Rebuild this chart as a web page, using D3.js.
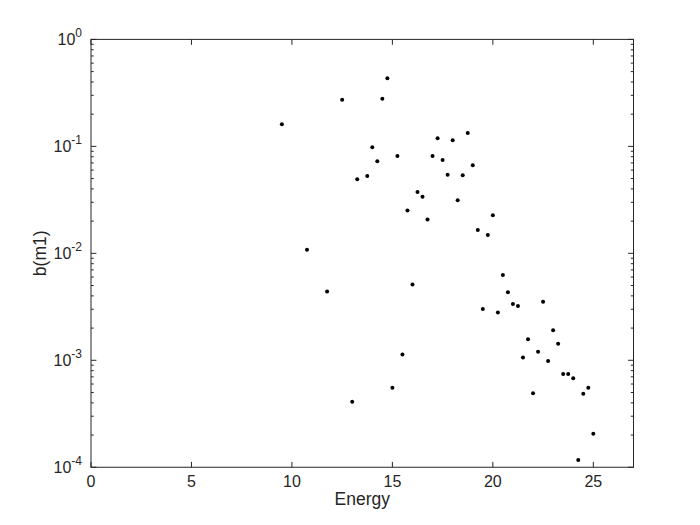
<!DOCTYPE html>
<html><head><meta charset="utf-8">
<script src="https://cdn.jsdelivr.net/npm/d3@7"></script>
<style>body{margin:0;background:#fff}svg{display:block}</style>
</head><body>
<script>
const energy = [9.5,12.5,14.5,14.75,17.25,18,18.75,14,14.25,15.25,17,17.5,17.75,19,13.25,13.75,16.25,16.5,18.25,18.5,15.75,16.75,20,19.25,19.75,10.75,11.75,16,15.5,15,13,20.5,20.75,19.5,20.25,21,21.25,22.5,23,21.75,23.25,22.25,21.5,22.75,23.5,23.75,24,24.75,24.5,22,25,24.25];
const bm1 = [0.161,0.273,0.279,0.433,0.119,0.114,0.133,0.098,0.0725,0.0813,0.0813,0.0745,0.0543,0.0665,0.0492,0.0528,0.0374,0.0338,0.0313,0.0536,0.0251,0.0207,0.0227,0.0165,0.0148,0.0108,0.0044,0.0051,0.00113,0.000554,0.00041,0.00627,0.00432,0.00302,0.00279,0.00336,0.00322,0.00353,0.00191,0.00157,0.00143,0.0012,0.00106,0.000985,0.000744,0.000744,0.000679,0.000554,0.000487,0.000491,0.000206,0.000117];
const xTicks = [0,5,10,15,20,25];
const yTickExps = [0,-1,-2,-3,-4];
const xLabel = "Energy";
const yLabel = "b(m1)";

const W=700,H=525;
const L=91,R=633.5,T=39.4,B=467.25;
const ink="#262626";
const font="'Liberation Sans', Arial, Helvetica, sans-serif";
const svg=d3.select("body").append("svg").attr("width",W).attr("height",H);
const x=d3.scaleLinear().domain([0,27]).range([L,R]);
const y=d3.scaleLog().domain([1e-4,1]).range([B,T]);

// points
svg.append("g").selectAll("circle").data(energy.map((e,i)=>[e,bm1[i]])).join("circle")
  .attr("cx",d=>x(d[0])).attr("cy",d=>y(d[1])).attr("r",2).attr("fill","#000");

const g=svg.append("g").attr("stroke",ink).attr("fill","none").attr("stroke-width",1);
// box
g.append("rect").attr("x",L).attr("y",T).attr("width",R-L).attr("height",B-T);
// x ticks
xTicks.forEach(v=>{
  const px=x(v);
  g.append("line").attr("x1",px).attr("x2",px).attr("y1",B).attr("y2",B-5.4);
  g.append("line").attr("x1",px).attr("x2",px).attr("y1",T).attr("y2",T+5.4);
});
// y ticks (major + minor)
yTickExps.forEach(e=>{
  const py=y(Math.pow(10,e));
  g.append("line").attr("x1",L).attr("x2",L+5.4).attr("y1",py).attr("y2",py);
  g.append("line").attr("x1",R).attr("x2",R-5.4).attr("y1",py).attr("y2",py);
  if(e>-4){
    for(let k=2;k<=9;k++){
      const pm=y(k*Math.pow(10,e-1));
      g.append("line").attr("x1",L).attr("x2",L+2.7).attr("y1",pm).attr("y2",pm);
      g.append("line").attr("x1",R).attr("x2",R-2.7).attr("y1",pm).attr("y2",pm);
    }
  }
});
// x tick labels
svg.append("g").selectAll("text").data(xTicks).join("text")
  .attr("x",d=>x(d)).attr("y",B+20).attr("text-anchor","middle")
  .attr("font-family",font).attr("font-size",16).attr("fill",ink).text(d=>d);
// y tick labels
const yl=svg.append("g");
yTickExps.forEach(e=>{
  const t=yl.append("text").attr("x",L-9).attr("y",y(Math.pow(10,e))+6)
    .attr("text-anchor","end").attr("font-family",font).attr("font-size",16).attr("fill",ink);
  t.append("tspan").text("10");
  t.append("tspan").attr("dy",-8).attr("font-size",12).text(String(e));
});
svg.append("text").attr("x",(L+R)/2).attr("y",B+38).attr("text-anchor","middle")
  .attr("font-family",font).attr("font-size",17.5).attr("fill",ink).text(xLabel);
svg.append("text").attr("transform",`translate(46,${(T+B)/2}) rotate(-90)`).attr("text-anchor","middle")
  .attr("font-family",font).attr("font-size",17.5).attr("fill",ink).text(yLabel);
</script>
</body></html>
